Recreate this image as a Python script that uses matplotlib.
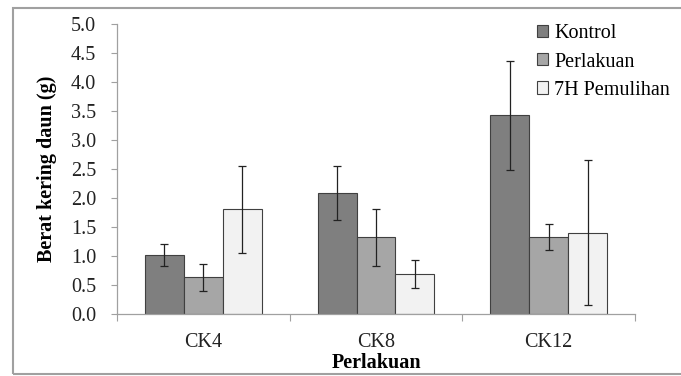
import numpy as np
import matplotlib
matplotlib.use("Agg")
import matplotlib.pyplot as plt
from matplotlib.patches import Rectangle

# data
categories = ["CK4", "CK8", "CK12"]
series = ["Kontrol", "Perlakuan", "7H Pemulihan"]
kontrol = [1.02, 2.09, 3.43]
kontrol_err = [0.19, 0.47, 0.94]
perlakuan = [0.63, 1.32, 1.33]
perlakuan_err = [0.24, 0.49, 0.23]
pemulihan = [1.81, 0.69, 1.40]
pemulihan_err = [0.75, 0.24, 1.25]

colors = ["#7f7f7f", "#a6a6a6", "#f2f2f2"]

plt.rcParams['font.family'] = ['Liberation Serif', 'DejaVu Serif']

fig = plt.figure(figsize=(6.81, 3.76), dpi=100)
ax = fig.add_axes([0.1718, 0.1649, 0.7607, 0.7713])

x = np.arange(len(categories))
w = 0.225
vals = [kontrol, perlakuan, pemulihan]
errs = [kontrol_err, perlakuan_err, pemulihan_err]
for i, (v, e) in enumerate(zip(vals, errs)):
    ax.bar(x + (i - 1) * w, v, w, color=colors[i], edgecolor="#404040",
           linewidth=0.8, label=series[i], zorder=2)
    ax.errorbar(x + (i - 1) * w, v, yerr=e, fmt="none", ecolor="#222222",
                elinewidth=0.9, capsize=3, capthick=0.9, zorder=3)

ax.set_xlim(-0.5, 2.5)
ax.set_ylim(0, 5)
ax.set_yticks(np.arange(0, 5.01, 0.5))
ax.set_yticklabels([f"{t:.1f}" for t in np.arange(0, 5.01, 0.5)])
ax.set_xticks(x)
ax.set_xticklabels(categories)
ax.set_xticks([-0.5, 0.5, 1.5, 2.5], minor=True)
ax.tick_params(axis="x", which="major", length=0, pad=14, labelsize=14.5, colors="#222222")
ax.tick_params(axis="x", which="minor", length=5, color="#a0a0a0", width=0.8)
ax.tick_params(axis="y", length=4, color="#a0a0a0", width=0.8, pad=11, labelsize=14.5,
               labelcolor="#222222")

for s in ["top", "right"]:
    ax.spines[s].set_visible(False)
for s in ["left", "bottom"]:
    ax.spines[s].set_color("#a0a0a0")
    ax.spines[s].set_linewidth(0.9)

ax.set_ylabel("Berat kering daun (g)", fontsize=14.5, fontweight="bold", labelpad=10)
ax.set_xlabel("Perlakuan", fontsize=14.5, fontweight="bold", va="center")
ax.xaxis.set_label_coords(0.5, -0.168)

ax.legend(loc="upper left", bbox_to_anchor=(0.789, 0.935), bbox_transform=fig.transFigure,
          frameon=False, fontsize=14.5, handlelength=0.55, handleheight=0.55,
          handletextpad=0.3, labelspacing=0.45, borderpad=0, borderaxespad=0)

# chart area border
fig.patches.append(Rectangle((0.019, 0.005), 1.2, 0.974, transform=fig.transFigure,
                             fill=False, edgecolor="#a0a0a0", linewidth=1.5))

fig.savefig("out.png", dpi=100)
